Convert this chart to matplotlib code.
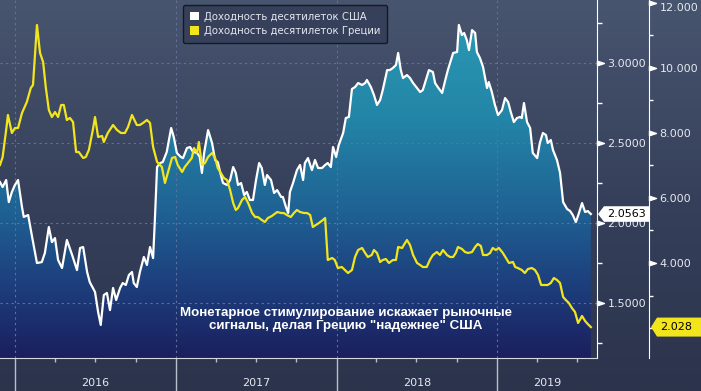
import numpy as np
import pandas as pd
import matplotlib
matplotlib.use("Agg")
import matplotlib.pyplot as plt
import matplotlib.dates as mdates
from matplotlib.colors import LinearSegmentedColormap
from matplotlib.patches import Polygon, Patch
from matplotlib.path import Path
from matplotlib.ticker import FixedLocator, MultipleLocator, NullFormatter, FormatStrFormatter
from matplotlib.transforms import blended_transform_factory

# ---------------- data ----------------
us_dates = ["2015-11-28","2015-12-04","2015-12-12","2015-12-18","2015-12-25","2016-01-01","2016-01-08","2016-01-17","2016-01-21","2016-01-31",
"2016-02-09","2016-02-20","2016-03-02","2016-03-09","2016-03-18","2016-03-25","2016-04-01","2016-04-08","2016-04-17","2016-04-28",
"2016-05-10","2016-05-21","2016-05-28","2016-06-04","2016-06-13","2016-06-19","2016-07-01","2016-07-08","2016-07-14","2016-07-21",
"2016-07-28","2016-08-04","2016-08-11","2016-08-18","2016-08-27","2016-09-02","2016-09-09","2016-09-16","2016-09-23","2016-09-27",
"2016-10-04","2016-10-11","2016-10-20","2016-10-27","2016-11-03","2016-11-10","2016-11-14","2016-11-19","2016-11-26","2016-12-02",
"2016-12-11","2016-12-21","2016-12-27","2017-01-03","2017-01-12","2017-01-17","2017-01-26","2017-02-02","2017-02-09","2017-02-18",
"2017-02-24","2017-03-01","2017-03-06","2017-03-10","2017-03-15","2017-03-24","2017-03-31","2017-04-06","2017-04-13","2017-04-18",
"2017-04-27","2017-05-04","2017-05-11","2017-05-17","2017-05-22","2017-05-29","2017-06-05","2017-06-11","2017-06-18","2017-06-25",
"2017-07-02","2017-07-09","2017-07-15","2017-07-22","2017-07-27","2017-08-05","2017-08-12","2017-08-19","2017-08-28","2017-09-01",
"2017-09-08","2017-09-13","2017-09-17","2017-09-24","2017-10-03","2017-10-10","2017-10-17","2017-10-21","2017-10-28","2017-11-06",
"2017-11-13","2017-11-20","2017-11-29","2017-12-06","2017-12-12","2017-12-19","2017-12-24","2017-12-31","2018-01-06","2018-01-16",
"2018-01-22","2018-01-29","2018-02-05","2018-02-12","2018-02-19","2018-02-28","2018-03-07","2018-03-11","2018-03-20","2018-03-27",
"2018-04-03","2018-04-10","2018-04-16","2018-04-26","2018-05-02","2018-05-09","2018-05-16","2018-05-21","2018-05-27","2018-06-01",
"2018-06-10","2018-06-17","2018-06-24","2018-07-03","2018-07-10","2018-07-16","2018-07-23","2018-07-30","2018-08-08","2018-08-13",
"2018-08-19","2018-08-29","2018-09-04","2018-09-11","2018-09-16","2018-09-23","2018-10-02","2018-10-06","2018-10-13","2018-10-18",
"2018-10-24","2018-10-29","2018-11-05","2018-11-12","2018-11-16","2018-11-23","2018-11-30","2018-12-09","2018-12-13","2018-12-20",
"2018-12-27","2019-01-03","2019-01-12","2019-01-19","2019-01-26","2019-02-01","2019-02-08","2019-02-15","2019-02-22","2019-02-26",
"2019-03-03","2019-03-10","2019-03-17","2019-03-23","2019-04-02","2019-04-08","2019-04-15","2019-04-22","2019-04-26","2019-05-03",
"2019-05-08","2019-05-17","2019-05-24","2019-05-31","2019-06-09","2019-06-16","2019-06-22","2019-06-29","2019-07-06","2019-07-13",
"2019-07-20","2019-07-26","2019-08-02"]
us_yield = [2.256,2.225,2.269,2.131,2.194,2.238,2.269,2.100,2.038,2.050,
1.913,1.750,1.756,1.813,1.975,1.881,1.906,1.769,1.719,1.894,
1.800,1.706,1.844,1.850,1.694,1.631,1.569,1.444,1.363,1.550,
1.563,1.456,1.594,1.519,1.594,1.625,1.613,1.675,1.694,1.625,
1.600,1.694,1.788,1.738,1.850,1.781,2.019,2.350,2.375,2.381,
2.444,2.594,2.538,2.438,2.413,2.406,2.469,2.475,2.444,2.438,
2.413,2.313,2.438,2.500,2.581,2.500,2.394,2.381,2.300,2.250,
2.238,2.269,2.350,2.313,2.238,2.250,2.175,2.194,2.144,2.144,
2.269,2.375,2.344,2.238,2.300,2.269,2.188,2.206,2.163,2.163,
2.100,2.063,2.194,2.250,2.331,2.363,2.269,2.375,2.406,2.331,
2.394,2.344,2.344,2.363,2.375,2.350,2.475,2.413,2.488,2.563,
2.656,2.663,2.838,2.850,2.875,2.863,2.875,2.894,2.850,2.800,
2.738,2.769,2.831,2.956,2.956,2.969,2.988,3.063,2.956,2.906,
2.925,2.906,2.875,2.844,2.819,2.831,2.894,2.956,2.944,2.875,
2.850,2.813,2.881,2.956,3.000,3.063,3.069,3.238,3.175,3.188,
3.144,3.081,3.206,3.188,3.069,3.031,2.975,2.844,2.881,2.819,
2.738,2.675,2.706,2.781,2.756,2.694,2.631,2.656,2.663,2.656,
2.750,2.631,2.594,2.438,2.406,2.500,2.563,2.550,2.500,2.519,
2.456,2.394,2.313,2.131,2.088,2.075,2.050,2.006,2.063,2.125,
2.069,2.075,2.0563]

gr_dates = ["2015-11-28","2015-12-04","2015-12-12","2015-12-16","2015-12-25","2016-01-01","2016-01-08","2016-01-17","2016-01-28","2016-02-06",
"2016-02-11","2016-02-15","2016-02-20","2016-02-27","2016-03-05","2016-03-11","2016-03-18","2016-03-25","2016-04-01","2016-04-08",
"2016-04-15","2016-04-21","2016-04-28","2016-05-05","2016-05-12","2016-05-19","2016-05-25","2016-06-04","2016-06-10","2016-06-17",
"2016-06-26","2016-07-01","2016-07-08","2016-07-17","2016-07-21","2016-07-30","2016-08-11","2016-08-20","2016-08-29","2016-09-07",
"2016-09-14","2016-09-23","2016-10-04","2016-10-11","2016-10-18","2016-10-27","2016-11-03","2016-11-10","2016-11-19","2016-11-30",
"2016-12-07","2016-12-14","2016-12-23","2016-12-30","2017-01-05","2017-01-15","2017-01-21","2017-01-28","2017-02-06","2017-02-11",
"2017-02-18","2017-02-22","2017-03-01","2017-03-08","2017-03-15","2017-03-24","2017-03-31","2017-04-06","2017-04-13","2017-04-20",
"2017-04-27","2017-05-04","2017-05-11","2017-05-17","2017-05-22","2017-05-31","2017-06-07","2017-06-14","2017-06-23","2017-06-30",
"2017-07-06","2017-07-15","2017-07-22","2017-07-29","2017-08-07","2017-08-19","2017-08-28","2017-09-03","2017-09-10","2017-09-19",
"2017-09-26","2017-10-03","2017-10-10","2017-10-19","2017-10-26","2017-11-02","2017-11-08","2017-11-15","2017-11-22","2017-12-01",
"2017-12-06","2017-12-12","2017-12-22","2017-12-28","2018-01-04","2018-01-13","2018-01-20","2018-01-27","2018-02-05","2018-02-12",
"2018-02-19","2018-02-28","2018-03-07","2018-03-13","2018-03-22","2018-03-27","2018-04-03","2018-04-10","2018-04-16","2018-04-23",
"2018-04-30","2018-05-09","2018-05-16","2018-05-21","2018-05-30","2018-06-03","2018-06-10","2018-06-17","2018-06-24","2018-07-03",
"2018-07-10","2018-07-16","2018-07-25","2018-08-01","2018-08-08","2018-08-17","2018-08-24","2018-08-31","2018-09-09","2018-09-16",
"2018-09-23","2018-09-29","2018-10-04","2018-10-13","2018-10-20","2018-10-27","2018-11-05","2018-11-12","2018-11-18","2018-11-25",
"2018-11-30","2018-12-09","2018-12-16","2018-12-22","2018-12-29","2019-01-05","2019-01-14","2019-01-21","2019-01-28","2019-02-06",
"2019-02-11","2019-02-17","2019-02-26","2019-03-05","2019-03-12","2019-03-21","2019-03-28","2019-04-04","2019-04-11","2019-04-17",
"2019-04-26","2019-05-03","2019-05-10","2019-05-17","2019-05-24","2019-05-31","2019-06-06","2019-06-13","2019-06-20","2019-06-27",
"2019-07-04","2019-07-13","2019-07-20","2019-07-26","2019-08-02"]
gr_yield = [7.015,7.262,8.092,8.554,8.000,8.154,8.154,8.615,8.954,9.385,
9.477,10.308,11.323,10.462,10.185,9.415,8.708,8.492,8.646,8.492,
8.862,8.862,8.400,8.462,8.338,7.415,7.415,7.231,7.262,7.477,
8.092,8.492,7.877,7.908,7.723,8.000,8.246,8.092,8.000,8.000,
8.185,8.554,8.246,8.246,8.308,8.400,8.308,7.569,7.108,6.954,
6.462,6.800,7.231,7.262,7.015,6.800,6.954,7.077,7.231,7.538,
7.385,7.723,7.015,7.077,7.262,7.385,7.231,6.923,6.769,6.615,
6.554,6.246,5.846,5.631,5.692,5.938,6.031,5.846,5.538,5.415,
5.415,5.323,5.262,5.385,5.446,5.569,5.538,5.538,5.477,5.415,
5.538,5.631,5.569,5.538,5.538,5.477,5.108,5.169,5.231,5.323,
5.385,4.092,4.154,4.092,3.846,3.877,3.785,3.692,3.785,4.185,
4.400,4.462,4.308,4.185,4.246,4.400,4.308,4.031,4.092,4.123,
4.000,4.092,4.092,4.492,4.462,4.554,4.708,4.554,4.246,4.000,
3.938,3.877,3.877,4.092,4.246,4.338,4.246,4.400,4.246,4.185,
4.185,4.308,4.492,4.431,4.338,4.308,4.338,4.492,4.585,4.523,
4.246,4.246,4.308,4.462,4.400,4.462,4.308,4.154,4.000,4.031,
3.877,3.846,3.785,3.692,3.815,3.846,3.785,3.631,3.323,3.323,
3.323,3.385,3.538,3.477,3.385,2.954,2.862,2.769,2.615,2.492,
2.154,2.369,2.215,2.123,2.028]

us_ticks = [1.5, 2.0, 2.5, 3.0]
gr_ticks = [4, 6, 8, 10, 12]
years = [2016, 2017, 2018, 2019]
legend_labels = ["Доходность десятилеток США", "Доходность десятилеток Греции"]
note = "Монетарное стимулирование искажает рыночные\nсигналы, делая Грецию \"надежнее\" США"
us_last_label = "2.0563"
gr_last_label = "2.028"

# ---------------- style ----------------
W, H = 701, 391
US_COLOR = "#ffffff"
GR_COLOR = "#f3e51c"
TXT = "#e4e8f0"
GRID = "#62719a"
plt.rcParams["font.family"] = ["DejaVu Sans"]

fig = plt.figure(figsize=(W / 100, H / 100), dpi=100)

grad = np.linspace(0, 1, 256).reshape(-1, 1)
bg = fig.add_axes([0, 0, 1, 1], zorder=-10)
bg.axis("off")
bg_cmap = LinearSegmentedColormap.from_list("bg", ["#48556f", "#36405b", "#2c344c"])
bg.imshow(grad, aspect="auto", cmap=bg_cmap, extent=[0, 1, 0, 1], origin="upper")

ax = fig.add_axes([0, 1 - 358 / H, 597 / W, 358 / H])
ax.patch.set_alpha(0)
ud = pd.to_datetime(us_dates)
gd = pd.to_datetime(gr_dates)
x0 = pd.Timestamp("2015-11-28")
x1 = pd.Timestamp("2019-08-16")
us_lim = (1.1565, 3.394)
gr_lim = (1.077, 12.092)

# gradient area under US line
xn = mdates.date2num(ud)
verts = np.column_stack([np.r_[xn[0], xn, xn[-1]], np.r_[us_lim[0], us_yield, us_lim[0]]])
clip = Polygon(verts, closed=True, transform=ax.transData, facecolor="none", edgecolor="none")
ax.add_patch(clip)
fill_cmap = LinearSegmentedColormap.from_list(
    "fill", [(0, "#2c9db7"), (0.33, "#2385a7"), (0.6, "#1f6093"), (0.8, "#1d3e7c"), (1, "#1b1f5e")])
im = ax.imshow(grad, aspect="auto", cmap=fill_cmap,
               extent=[mdates.date2num(x0), mdates.date2num(x1), us_lim[0], us_lim[1]],
               origin="upper", zorder=1)
im.set_clip_path(clip)
ax.plot(ud, us_yield, color=US_COLOR, lw=1.6, zorder=3, solid_joinstyle="round")
ax.set_xlim(x0, x1)
ax.set_ylim(*us_lim)

ax2 = ax.twinx()
ax2.set_ylim(*gr_lim)
ax2.set_xlim(x0, x1)

# x axis
ax.xaxis.set_major_locator(mdates.YearLocator())
ax.xaxis.set_minor_locator(mdates.MonthLocator(bymonth=[4, 7, 10]))
ax.xaxis.set_major_formatter(NullFormatter())
ax.tick_params(axis="x", which="major", length=24, width=1, color="#b9bfcc", direction="out")
ax.tick_params(axis="x", which="minor", length=3.2, width=1, color="#b9bfcc", direction="out")
ax.grid(True, which="major", axis="both", color=GRID, lw=0.8, ls=(0, (2, 3)), zorder=2)

# US axis on the right (inner)
for s in ["top", "left"]:
    ax.spines[s].set_visible(False)
ax.spines["bottom"].set_color("#d4d8e0")
ax.spines["right"].set_color("#ffffff")
ax.yaxis.set_major_locator(FixedLocator(us_ticks))
ax.yaxis.set_minor_locator(MultipleLocator(0.25))
ax.yaxis.set_major_formatter(FormatStrFormatter("%.4f"))
ax.tick_params(axis="y", which="both", left=False, labelleft=False, right=True, labelright=True)
ax.tick_params(axis="y", which="major", length=0, pad=7.5, labelsize=8, labelcolor=TXT)
ax.tick_params(axis="y", which="minor", length=3.6, width=1, color="#ffffff")

# Greece axis (outer)
ax2.plot(gd, gr_yield, color=GR_COLOR, lw=1.6, zorder=4, solid_joinstyle="round")
for s in ["top", "left", "bottom"]:
    ax2.spines[s].set_visible(False)
ax2.spines["right"].set_position(("axes", 649 / 597))
ax2.spines["right"].set_color("#ffffff")
ax2.yaxis.set_major_locator(FixedLocator(gr_ticks))
ax2.yaxis.set_minor_locator(MultipleLocator(1))
ax2.yaxis.set_major_formatter(FormatStrFormatter("%.3f"))
ax2.tick_params(axis="y", which="major", length=0, pad=7.5, labelsize=8, labelcolor=TXT)
ax2.tick_params(axis="y", which="minor", length=2.8, width=1, color="#ffffff")
ax2.tick_params(axis="x", which="both", bottom=False, labelbottom=False, top=False)

# triangle tick markers
tri = Path([(0, -0.33), (1, 0), (0, 0.33), (0, -0.33)],
           [Path.MOVETO, Path.LINETO, Path.LINETO, Path.CLOSEPOLY])
ax.plot([1.0] * len(us_ticks), us_ticks, ls="none", marker=tri, ms=10, color="#ffffff",
        transform=ax.get_yaxis_transform(), clip_on=False, zorder=5)
ax2.plot([649 / 597] * len(gr_ticks), gr_ticks, ls="none", marker=tri, ms=10, color="#ffffff",
         transform=ax2.get_yaxis_transform(), clip_on=False, zorder=5)

fig.canvas.draw()
for t in ax2.yaxis.get_major_ticks():
    if abs(t.get_loc() - max(gr_ticks)) < 1e-9:
        t.label2.set_va("top")

# year labels centred in visible part of each year
ytrans = blended_transform_factory(ax.transData, fig.transFigure)
for yr in years:
    a = max(pd.Timestamp(f"{yr}-01-01"), x0)
    b = min(pd.Timestamp(f"{yr + 1}-01-01"), x1)
    mid = a + (b - a) / 2
    ax.text(mid, 1 - 383 / H, str(yr), transform=ytrans, ha="center", va="center",
            fontsize=8, color=TXT, clip_on=False)

# last value labels
def px_y(axis, val):
    return axis.transData.transform((0, val))[1]

def flag(x_tip, x_right, yc, half, face, text):
    pts = [(x_tip, yc), (x_tip + 6, yc - half), (x_right, yc - half), (x_right, yc + half), (x_tip + 6, yc + half)]
    pts = [(px / W, py / H) for px, py in pts]
    fig.add_artist(Polygon(pts, closed=True, transform=fig.transFigure, facecolor=face,
                           edgecolor="none", zorder=20))
    fig.text((x_tip + 9) / W, yc / H, text, ha="left", va="center", fontsize=8, color="#000000", zorder=21)

flag(598, 649, px_y(ax, us_yield[-1]), 7.8, "#ffffff", us_last_label)
flag(651, 701, px_y(ax2, gr_yield[-1]), 9.5, GR_COLOR, gr_last_label)

# legend
handles = [Patch(facecolor=US_COLOR, edgecolor="none"), Patch(facecolor=GR_COLOR, edgecolor="none")]
leg = fig.legend(handles, legend_labels, loc="upper left", bbox_to_anchor=(183 / W, 1 - 5 / H),
                 borderaxespad=0, fontsize=7.3, handlelength=0.95, handleheight=0.95, handletextpad=0.45,
                 labelspacing=0.45, borderpad=0.65, fancybox=True, framealpha=1,
                 facecolor="#36405a", edgecolor="#141926", labelcolor=TXT)
leg.get_frame().set_linewidth(1.0)

fig.text(346 / W, 1 - 319.5 / H, note, ha="center", va="center", multialignment="center",
         fontsize=9.6, fontweight="bold", color="#ffffff", family=["Liberation Sans", "DejaVu Sans"],
         linespacing=1.1, zorder=15)

fig.savefig("out.png", dpi=100)
